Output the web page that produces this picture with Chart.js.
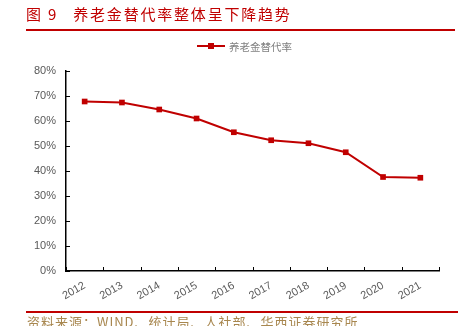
<!DOCTYPE html>
<html>
<head>
<meta charset="utf-8">
<script src="https://cdn.jsdelivr.net/npm/chart.js@4.4.1/dist/chart.umd.min.js"></script>
<style>
  html, body { margin: 0; padding: 0; background: #fff; }
  #wrap { position: relative; width: 458px; height: 326px; overflow: hidden; }
  #chart { position: absolute; left: 0; top: 0; }
  .title { position: absolute; left: 26px; top: 4px; font-family: "Noto Sans CJK SC", sans-serif;
    font-size: 15px; line-height: 20px; color: #C00000; letter-spacing: 1.8px; white-space: nowrap; }
  .title .num { margin-right: 10px; }
  .rule { position: absolute; left: 26px; height: 2px; background: #C00000; }
  .legend { position: absolute; top: 38px; left: 197px; height: 16px; display: flex; align-items: center;
    font-family: "Noto Sans CJK SC", sans-serif; font-size: 10.5px; color: #808080; white-space: nowrap; }
  .legend .sw { position: relative; width: 28px; height: 2px; background: #C00000; margin-right: 4px; }
  .legend .sw i { position: absolute; left: 11px; top: -2px; width: 6px; height: 6px; background: #C00000; }
  .source { position: absolute; left: 27px; top: 314px; font-family: "Noto Sans CJK SC", sans-serif;
    font-size: 13px; line-height: 16px; color: #A8874F; letter-spacing: 1.0px; white-space: nowrap; }
</style>
</head>
<body>
<div id="wrap">
  <canvas id="chart" width="458" height="326"></canvas>
  <div class="title"><span class="num">图 9</span> 养老金替代率整体呈下降趋势</div>
  <div class="rule" style="top:29px; width:429px;"></div>
  <div class="legend" id="legend"></div>
  <div class="rule" style="top:311px; width:432px;"></div>
  <div class="source">资料来源：WIND、统计局、人社部、华西证券研究所</div>
</div>
<script>
  var years = ['2012', '2013', '2014', '2015', '2016', '2017', '2018', '2019', '2020', '2021'];
  var seriesName = '养老金替代率';
  var replacementRate = [67.8, 67.4, 64.6, 61.0, 55.5, 52.3, 51.1, 47.5, 37.6, 37.3];
  var yTicks = [0, 10, 20, 30, 40, 50, 60, 70, 80];

  var red = '#C00000';
  var labelColor = '#595959';

  document.getElementById('legend').innerHTML =
    '<span class="sw"><i></i></span><span>' + seriesName + '</span>';

  // small tick marks drawn inside the plot, like the source chart
  var innerTicks = {
    id: 'innerTicks',
    afterDraw: function(chart) {
      var ctx = chart.ctx;
      var x = chart.scales.x, y = chart.scales.y;
      ctx.save();
      ctx.strokeStyle = '#000';
      ctx.lineWidth = 1;
      ctx.beginPath();
      yTicks.forEach(function(v) {
        var py = Math.round(y.getPixelForValue(v)) + 0.5;
        ctx.moveTo(x.left, py);
        ctx.lineTo(x.left + 4, py);
      });
      var n = years.length;
      var step = (x.right - x.left) / n;
      for (var i = 0; i <= n; i++) {
        var px = Math.round(x.left + i * step) + 0.5;
        ctx.moveTo(px, y.bottom);
        ctx.lineTo(px, y.bottom - 4);
      }
      ctx.stroke();
      ctx.restore();
    }
  };

  new Chart(document.getElementById('chart').getContext('2d'), {
    type: 'line',
    data: {
      labels: years,
      datasets: [{
        label: seriesName,
        data: replacementRate,
        borderColor: red,
        backgroundColor: red,
        borderWidth: 2,
        pointStyle: 'rect',
        pointRadius: 4,
        pointBackgroundColor: red,
        pointBorderWidth: 0,
        tension: 0,
        fill: false
      }]
    },
    options: {
      responsive: false,
      animation: false,
      devicePixelRatio: 1,
      layout: { padding: { left: 0, top: 71, right: 19, bottom: 0 } },
      plugins: {
        legend: { display: false },
        tooltip: { enabled: false }
      },
      scales: {
        x: {
          offset: true,
          afterFit: function(s) { s.height = 55; },
          grid: { display: false, drawTicks: false },
          border: { display: true, color: '#000', width: 1.5 },
          ticks: {
            font: { family: 'Liberation Sans', size: 11 }, color: labelColor,
            maxRotation: 30, minRotation: 30, padding: 8, autoSkip: false
          }
        },
        y: {
          min: 0, max: 80,
          afterFit: function(s) { s.width = 66; },
          afterBuildTicks: function(s) { s.ticks = yTicks.map(function(v) { return { value: v }; }); },
          grid: { display: false, drawTicks: false },
          border: { display: true, color: '#000', width: 1.5 },
          ticks: {
            font: { family: 'Liberation Sans', size: 11 }, color: labelColor, padding: 10,
            callback: function(v) { return v + '%'; }
          }
        }
      }
    },
    plugins: [innerTicks]
  });
</script>
</body>
</html>
